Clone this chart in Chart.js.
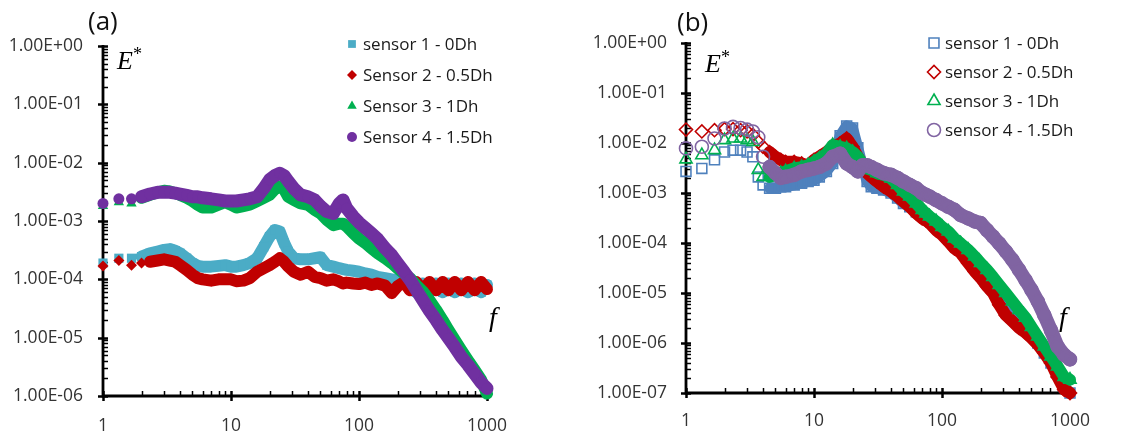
<!DOCTYPE html>
<html><head><meta charset="utf-8">
<script src="https://cdn.jsdelivr.net/npm/chart.js@4/dist/chart.umd.min.js"></script>
<style>
html,body{margin:0;padding:0;background:#fff;width:1140px;height:436px;overflow:hidden;}
.panel{position:absolute;top:0;width:570px;height:436px;}
#pa{left:0} #pb{left:570px}
.lbl{position:absolute;font-family:"Open Sans",sans-serif;color:#111;line-height:1;white-space:nowrap;}
.math{position:absolute;font-family:"Liberation Serif",serif;font-style:italic;color:#000;line-height:1;white-space:nowrap;}
.math sup{font-size:0.7em;position:relative;top:-0.15em;vertical-align:top;font-style:normal;}
</style></head>
<body>
<div class="panel" id="pa"><canvas id="ca" width="570" height="436"></canvas></div>
<div class="panel" id="pb"><canvas id="cb" width="570" height="436"></canvas></div>
<div class="lbl" style="left:88px;top:7px;font-size:26px">(a)</div>
<div class="lbl" style="left:677px;top:8px;font-size:26px">(b)</div>
<div class="math" style="left:117px;top:48px;font-size:26px">E<sup>*</sup></div>
<div class="math" style="left:705px;top:51px;font-size:26px">E<sup>*</sup></div>
<div class="math" style="left:489px;top:303px;font-size:28px">f</div>
<div class="math" style="left:1059px;top:303px;font-size:28px">f</div>
<script>
// ---------- data ----------
const freqs = [1,1.33,1.67,2,2.33,2.67,3,3.33,3.67,4,
  4.5,5,5.5,6,7,8,9,10,11,12.5,
  14,16,18,20,22,24,26,28,31,35,
  40,45,50,56,63,70,75,80,90,100,
  112,125,140,160,180,200,225,250,280,315,
  355,400,450,500,560,630,710,800,900,1000];

const xTickLabels = ['1','10','100','1000'];
const yTickLabelsA = ['1.00E-06','1.00E-05','1.00E-04','1.00E-03','1.00E-02','1.00E-01','1.00E+00'];
const yTickLabelsB = ['1.00E-07','1.00E-06','1.00E-05','1.00E-04','1.00E-03','1.00E-02','1.00E-01','1.00E+00'];

const namesA = ['sensor 1 - 0Dh','Sensor 2 - 0.5Dh','Sensor 3 - 1Dh','Sensor 4 - 1.5Dh'];
const namesB = ['sensor 1 - 0Dh','sensor 2 - 0.5Dh','sensor 3 - 1Dh','sensor 4 - 1.5Dh'];

// panel (a)
const a1 = [1.9e-4,2.3e-4,2.3e-4,2.45e-4,2.8e-4,3.0e-4,3.2e-4,3.3e-4,3.1e-4,2.8e-4,
  2.3e-4,1.9e-4,1.7e-4,1.65e-4,1.65e-4,1.7e-4,1.75e-4,1.65e-4,1.65e-4,1.75e-4,
  1.9e-4,2.3e-4,3.6e-4,5.4e-4,7.0e-4,6.6e-4,4.2e-4,3.0e-4,2.3e-4,2.2e-4,
  2.2e-4,2.3e-4,2.4e-4,1.75e-4,1.65e-4,1.55e-4,1.5e-4,1.45e-4,1.4e-4,1.35e-4,
  1.26e-4,1.2e-4,1.1e-4,1.05e-4,1.0e-4,9.5e-5,9.0e-5,8.5e-5,6.0e-5,8.5e-5,
  6.0e-5,8.5e-5,6.0e-5,8.5e-5,6.0e-5,8.5e-5,6.0e-5,8.5e-5,6.0e-5,8.0e-5];
const a2 = [1.7e-4,2.1e-4,1.75e-4,1.9e-4,2.0e-4,2.1e-4,2.2e-4,2.1e-4,2.0e-4,1.75e-4,
  1.45e-4,1.2e-4,1.05e-4,1.0e-4,9.5e-5,1.0e-4,1.0e-4,1.0e-4,9.3e-5,9.5e-5,
  1.05e-4,1.35e-4,1.55e-4,1.75e-4,2.0e-4,2.3e-4,2.0e-4,1.65e-4,1.35e-4,1.2e-4,
  1.35e-4,1.1e-4,1.05e-4,9.5e-5,1.0e-4,9.2e-5,8.5e-5,8.8e-5,8.5e-5,8.3e-5,
  8.8e-5,8.0e-5,8.5e-5,7.8e-5,5.8e-5,7.6e-5,9.0e-5,6.5e-5,9.0e-5,6.5e-5,
  9.0e-5,6.5e-5,9.0e-5,6.5e-5,9.0e-5,6.5e-5,9.0e-5,6.5e-5,9.0e-5,6.8e-5];
const a3 = [1.8e-3,2.1e-3,2.0e-3,2.5e-3,2.8e-3,3.1e-3,3.3e-3,3.2e-3,3.0e-3,2.8e-3,
  2.5e-3,2.2e-3,1.9e-3,1.7e-3,1.7e-3,1.9e-3,2.1e-3,1.9e-3,1.7e-3,1.8e-3,
  1.9e-3,2.2e-3,2.5e-3,2.8e-3,3.5e-3,3.9e-3,3.5e-3,2.6e-3,2.3e-3,2.0e-3,
  1.9e-3,1.55e-3,1.35e-3,1.05e-3,8.5e-4,9.0e-4,9.0e-4,8.1e-4,6.2e-4,5.0e-4,
  4.2e-4,3.4e-4,2.8e-4,2.3e-4,1.9e-4,1.55e-4,1.26e-4,1.05e-4,8.0e-5,6.2e-5,
  4.4e-5,3.0e-5,2.0e-5,1.35e-5,9.1e-6,6.1e-6,4.1e-6,2.8e-6,1.9e-6,1.1e-6];
const a4 = [2.0e-3,2.4e-3,2.4e-3,2.6e-3,2.9e-3,3.1e-3,3.1e-3,3.1e-3,3.0e-3,2.9e-3,
  2.75e-3,2.6e-3,2.6e-3,2.5e-3,2.4e-3,2.3e-3,2.2e-3,2.2e-3,2.2e-3,2.3e-3,
  2.4e-3,2.6e-3,3.6e-3,5.1e-3,6.0e-3,6.6e-3,6.0e-3,4.8e-3,3.6e-3,2.8e-3,
  2.6e-3,2.3e-3,1.8e-3,1.45e-3,1.35e-3,2.0e-3,2.3e-3,1.66e-3,1.2e-3,9.4e-4,
  7.6e-4,6.2e-4,4.9e-4,3.4e-4,2.6e-4,1.9e-4,1.35e-4,9.8e-5,6.6e-5,4.4e-5,
  2.9e-5,2.0e-5,1.35e-5,9.8e-6,6.9e-6,4.7e-6,3.4e-6,2.4e-6,1.7e-6,1.35e-6];

// panel (b)
const b1 = [2.7e-3,3.1e-3,4.6e-3,6.6e-3,7.2e-3,7.2e-3,6.6e-3,5.3e-3,2.1e-3,1.45e-3,
  1.24e-3,1.24e-3,1.34e-3,1.34e-3,1.45e-3,1.57e-3,1.7e-3,1.8e-3,2.1e-3,2.7e-3,
  3.9e-3,1.4e-2,2.2e-2,2.0e-2,8.0e-3,3.3e-3,1.7e-3,1.34e-3,1.24e-3,1.15e-3,
  1.0e-3,7.9e-4,6.2e-4,5.3e-4,4.2e-4,3.6e-4,3.3e-4,2.9e-4,2.3e-4,1.8e-4,
  1.35e-4,9.8e-5,7.8e-5,5.4e-5,4.0e-5,2.9e-5,2.0e-5,1.45e-5,9.2e-6,6.3e-6,
  4.3e-6,2.9e-6,2.0e-6,1.5e-6,1.0e-6,6.3e-7,4.0e-7,2.5e-7,1.35e-7,1.0e-7];
const b2 = [1.86e-2,1.7e-2,1.8e-2,1.9e-2,1.9e-2,1.8e-2,1.7e-2,1.45e-2,1.05e-2,8.4e-3,
  6.6e-3,5.3e-3,4.6e-3,4.2e-3,4.2e-3,3.9e-3,3.6e-3,4.6e-3,5.3e-3,6.6e-3,
  8.4e-3,9.8e-3,1.23e-2,8.4e-3,5.3e-3,3.3e-3,2.5e-3,2.1e-3,1.7e-3,1.34e-3,
  1.07e-3,8.5e-4,6.7e-4,5.3e-4,3.9e-4,3.1e-4,2.8e-4,2.5e-4,1.8e-4,1.45e-4,
  1.07e-4,7.8e-5,6.3e-5,4.0e-5,2.7e-5,2.0e-5,1.35e-5,1.0e-5,5.8e-6,3.6e-6,
  2.7e-6,2.0e-6,1.6e-6,1.26e-6,9.3e-7,6.3e-7,4.0e-7,2.1e-7,1.17e-7,1.0e-7];
const b3 = [4.7e-3,5.7e-3,7.2e-3,1.14e-2,1.23e-2,1.23e-2,1.14e-2,1.05e-2,2.9e-3,2.1e-3,
  2.1e-3,2.3e-3,2.5e-3,2.7e-3,3.1e-3,3.3e-3,3.6e-3,4.2e-3,4.9e-3,6.1e-3,
  9.1e-3,8.4e-3,7.8e-3,6.6e-3,5.3e-3,3.9e-3,3.1e-3,2.9e-3,2.5e-3,2.3e-3,
  1.96e-3,1.45e-3,1.07e-3,8.5e-4,6.2e-4,4.6e-4,3.9e-4,3.4e-4,2.7e-4,2.1e-4,
  1.7e-4,1.24e-4,9.8e-5,7.3e-5,5.4e-5,4.0e-5,2.9e-5,2.1e-5,1.45e-5,1.0e-5,
  6.8e-6,4.6e-6,3.2e-6,2.1e-6,1.35e-6,8.5e-7,5.4e-7,3.4e-7,2.1e-7,1.85e-7];
const b4 = [7.8e-3,8.4e-3,1.23e-2,1.95e-2,2.1e-2,2.0e-2,1.85e-2,1.7e-2,1.3e-2,5.3e-3,
  3.3e-3,2.5e-3,2.0e-3,2.1e-3,2.3e-3,2.7e-3,2.9e-3,3.1e-3,3.3e-3,3.9e-3,
  5.3e-3,6.1e-3,3.9e-3,3.3e-3,2.7e-3,3.6e-3,3.6e-3,3.3e-3,2.9e-3,2.5e-3,
  2.3e-3,2.0e-3,1.7e-3,1.45e-3,1.24e-3,1.0e-3,9.2e-4,8.5e-4,7.2e-4,6.2e-4,
  5.3e-4,4.6e-4,3.6e-4,3.1e-4,2.7e-4,2.5e-4,1.8e-4,1.35e-4,9.8e-5,6.8e-5,
  4.6e-5,2.9e-5,1.8e-5,1.15e-5,6.8e-6,3.6e-6,1.8e-6,8.5e-7,5.8e-7,4.7e-7];

// ---------- styles ----------
const stylesA = [
  {color:'#4BACC6', shape:'rect',     r:6.5, lw:12, fill:true, start:1.9},
  {color:'#C00000', shape:'rectRot',  r:5.5, lw:12, fill:true, start:2.2},
  {color:'#00B050', shape:'triangle', r:6,   lw:12, fill:true, start:1.9},
  {color:'#7030A0', shape:'circle',   r:5.5, lw:13, fill:true, start:1.9}
];
const stylesB = [
  {color:'#4F81BD', shape:'rect',     r:7,   lw:11, fill:false, start:4.4},
  {color:'#C00000', shape:'rectRot',  r:6.5, lw:12, fill:false, start:4.4},
  {color:'#00B050', shape:'triangle', r:7,   lw:12, fill:false, start:4.4},
  {color:'#8064A2', shape:'circle',   r:6.5, lw:14, fill:false, start:4.4}
];

const FONT = '"Open Sans", sans-serif';

const axesPlugin = {
  id:'excelAxes',
  beforeDatasetsDraw(chart){
    const {ctx, chartArea:a, scales:{x, y}} = chart;
    const gen = (s) => {
      const out = [];
      const e0 = Math.round(Math.log10(s.min)), e1 = Math.round(Math.log10(s.max));
      for (let e = e0; e < e1; e++) for (let k = 1; k <= 9; k++) out.push({v:k*Math.pow(10,e), major:k===1});
      out.push({v:Math.pow(10,e1), major:true});
      return out;
    };
    ctx.save();
    ctx.strokeStyle = '#000';
    gen(y).forEach(t => {
      const py = Math.round(y.getPixelForValue(t.v)) + 0.5;
      ctx.beginPath();
      if (t.major) { ctx.lineWidth = 2.5; ctx.moveTo(a.left - 5, py); ctx.lineTo(a.left + 5, py); }
      else { ctx.lineWidth = 1.5; ctx.moveTo(a.left, py); ctx.lineTo(a.left + 5, py); }
      ctx.stroke();
    });
    gen(x).forEach(t => {
      const px = Math.round(x.getPixelForValue(t.v)) + 0.5;
      ctx.beginPath();
      if (t.major) { ctx.lineWidth = 2.5; ctx.moveTo(px, a.bottom - 5); ctx.lineTo(px, a.bottom + 5); }
      else { ctx.lineWidth = 1.5; ctx.moveTo(px, a.bottom - 5); ctx.lineTo(px, a.bottom); }
      ctx.stroke();
    });
    ctx.lineWidth = 2.8;
    ctx.beginPath();
    ctx.moveTo(a.left, a.top - 1); ctx.lineTo(a.left, a.bottom);
    ctx.lineTo(a.right, a.bottom);
    ctx.stroke();
    ctx.restore();
  }
};

const legendPlugin = {
  id:'boxLegend',
  afterDraw(chart, args, o){
    const ctx = chart.ctx;
    ctx.save();
    ctx.font = o.size + 'px ' + FONT;
    ctx.textBaseline = 'middle';
    ctx.textAlign = 'left';
    chart.data.datasets.forEach((d, i) => {
      const st = o.styles[i];
      const cy = o.y0 + i * o.dy;
      ctx.fillStyle = st.fill ? st.color : 'rgba(0,0,0,0)';
      ctx.strokeStyle = st.color;
      ctx.lineWidth = st.fill ? 0 : 1.6;
      Chart.helpers.drawPoint(ctx, {pointStyle: st.shape, radius: o.r[i], rotation: 0, borderWidth: st.fill ? 0 : 1.6}, o.mx, cy);
      ctx.fillStyle = '#1a1a1a';
      ctx.fillText(d.label, o.tx, cy + 1);
    });
    ctx.restore();
  }
};

function makeDatasets(series, names, styles){
  return series.map((vals, i) => {
    const st = styles[i];
    return {
      label: names[i],
      data: freqs.map((f, k) => ({x: f, y: vals[k]})),
      showLine: true,
      tension: 0,
      borderColor: st.color,
      borderWidth: st.lw,
      borderCapStyle: 'round',
      borderJoinStyle: 'round',
      segment: { borderColor: c => (c.p0.parsed.x < st.start ? 'rgba(0,0,0,0)' : st.color) },
      pointStyle: st.shape,
      pointRadius: st.r,
      pointHoverRadius: st.r,
      pointRotation: 0,
      pointBackgroundColor: st.fill ? st.color : 'rgba(0,0,0,0)',
      pointBorderColor: st.color,
      pointBorderWidth: st.fill ? 0 : 1.6,
      order: 4 - i,
      clip: false
    };
  });
}

function makeChart(id, series, names, styles, yLabels, yMin, lay, leg){
  const expMin = Math.round(Math.log10(yMin));
  return new Chart(document.getElementById(id), {
    type: 'scatter',
    data: { datasets: makeDatasets(series, names, styles) },
    plugins: [axesPlugin, legendPlugin],
    options: {
      responsive: false,
      animation: false,
      devicePixelRatio: 1,
      layout: { padding: { left: 0, right: lay.right, top: lay.top, bottom: 0 } },
      plugins: {
        legend: { display: false },
        tooltip: { enabled: false },
        boxLegend: leg
      },
      scales: {
        x: {
          type: 'logarithmic', min: 1, max: 1000,
          grid: { display: false, drawTicks: false }, border: { display: false },
          ticks: {
            autoSkip: false, maxRotation: 0, padding: lay.xpad, color: '#333',
            font: { family: FONT, size: 17.5 },
            callback: v => {
              const e = Math.log10(v);
              return Math.abs(e - Math.round(e)) < 1e-9 ? xTickLabels[Math.round(e)] : '';
            }
          },
          afterFit: s => { s.height = lay.xh; }
        },
        y: {
          type: 'logarithmic', min: yMin, max: 1,
          grid: { display: false, drawTicks: false }, border: { display: false },
          ticks: {
            autoSkip: false, padding: lay.ypad, color: '#333',
            font: { family: FONT, size: 17.5 },
            callback: v => {
              const e = Math.log10(v);
              return Math.abs(e - Math.round(e)) < 1e-9 ? yLabels[Math.round(e) - expMin] : '';
            }
          },
          afterFit: s => { s.width = lay.yw; }
        }
      }
    }
  });
}

makeChart('ca', [a1, a2, a3, a4], namesA, stylesA, yTickLabelsA, 1e-6,
  {right: 83, top: 46, xh: 40, yw: 103, ypad: 20, xpad: 20},
  {styles: stylesA, r: [5.5, 5, 5.5, 5], mx: 352, tx: 363, y0: 44, dy: 31, size: 17});

makeChart('cb', [b1, b2, b3, b4], namesB, stylesB, yTickLabelsB, 1e-7,
  {right: 70, top: 43, xh: 43, yw: 116, ypad: 19, xpad: 18},
  {styles: stylesB, r: [7, 6.5, 7, 6.5], mx: 364, tx: 375, y0: 43, dy: 29, size: 17});
</script>
</body></html>
